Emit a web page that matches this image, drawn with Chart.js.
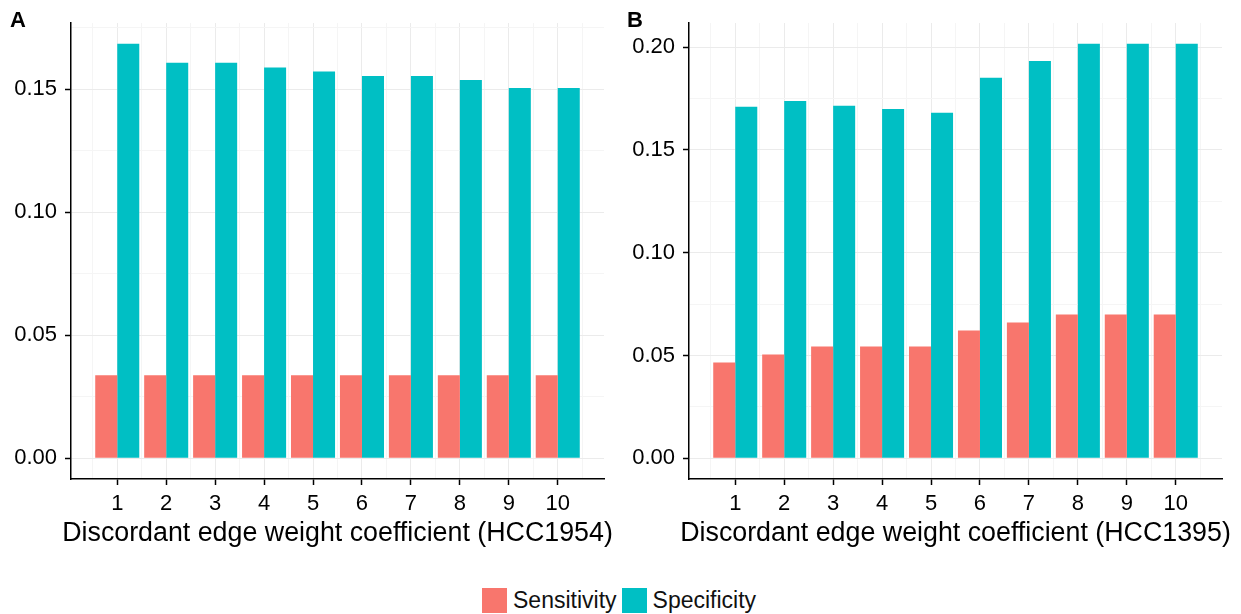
<!DOCTYPE html>
<html>
<head>
<meta charset="utf-8">
<script src="https://cdn.jsdelivr.net/npm/chart.js@4"></script>
<style>
  body { margin: 0; background: #fff; font-family: "Liberation Sans", Arial, sans-serif; }
  .wrap { position: relative; width: 1241px; height: 614px; overflow: hidden; }
  canvas { position: absolute; top: 0; }
  .tag { position: absolute; top: 7px; font-weight: bold; font-size: 22px; color: #000; }
  .xtitle { position: absolute; top: 519px; width: 700px; margin-left: -350px; text-align: center; font-size: 26.8px; line-height: 1; color: #000; white-space: nowrap; }
  .legend { position: absolute; left: 482px; top: 587px; display: flex; align-items: center; font-size: 23px; color: #111; }
  .sw { width: 25px; height: 25px; margin-right: 6px; }
  .legend span + .sw { margin-left: 5px; }
</style>
</head>
<body>
<div class="wrap">
  <canvas id="chartA" width="620" height="560" style="left:0"></canvas>
  <canvas id="chartB" width="621" height="560" style="left:620px"></canvas>
  <div class="tag" style="left:10px">A</div>
  <div class="tag" style="left:627px">B</div>
  <div class="xtitle" style="left:337.5px">Discordant edge weight coefficient (HCC1954)</div>
  <div class="xtitle" style="left:955.5px">Discordant edge weight coefficient (HCC1395)</div>
  <div class="legend">
    <div class="sw" style="background:#F8766D"></div><span>Sensitivity</span>
    <div class="sw" style="background:#00BFC4"></div><span>Specificity</span>
  </div>
</div>
<script>
const categories = [1, 2, 3, 4, 5, 6, 7, 8, 9, 10];

const sensitivityA = [0.0337, 0.0337, 0.0337, 0.0337, 0.0337, 0.0337, 0.0337, 0.0337, 0.0337, 0.0337];
const specificityA = [0.1684, 0.1607, 0.1607, 0.1587, 0.1571, 0.1553, 0.1553, 0.1537, 0.1504, 0.1504];

const sensitivityB = [0.0466, 0.0505, 0.0544, 0.0544, 0.0544, 0.0621, 0.066, 0.0699, 0.0699, 0.0699];
const specificityB = [0.1709, 0.1738, 0.1714, 0.1699, 0.168, 0.185, 0.1932, 0.2016, 0.2016, 0.2016];

const yTicksA = [0, 0.05, 0.1, 0.15];
const yTicksB = [0, 0.05, 0.1, 0.15, 0.2];

const FONT = "'Liberation Sans', Arial, sans-serif";
const MAJOR = "#ebebeb";
const MINOR = "#f5f5f5";

const toPoints = (values) => values.map((v, i) => ({ x: categories[i], y: v }));

// major ticks plus the half-way minor grid lines ggplot draws
const withMinor = (major) => {
  const out = [];
  major.forEach((v, i) => {
    out.push(v);
    const next = i < major.length - 1 ? major[i + 1] : v + (major[1] - major[0]);
    out.push(+(v + (next - v) / 2).toFixed(4));
  });
  return out;
};

const isMajor = (list, value) => list.some((v) => Math.abs(v - value) < 1e-6);

const gridColor = (list) => (c) => (c.tick && !isMajor(list, c.tick.value) ? MINOR : MAJOR);
const tickColor = (list) => (c) => (c.tick && !isMajor(list, c.tick.value) ? "rgba(0,0,0,0)" : "#000");

const makeChart = (id, sens, spec, yTicks, rightPad, yAxisWidth) => {
  const ctx = document.querySelector(id);
  const top = Math.max(...spec, ...sens);
  const xMajor = categories;
  const xAll = [categories[0] - 0.5].concat(withMinor(categories).slice(0, -1), [categories[categories.length - 1] + 0.5]);
  const yAll = withMinor(yTicks).filter((v) => v <= top * 1.05);

  return new Chart(ctx, {
    type: "bar",
    data: {
      datasets: [
        { label: "Sensitivity", data: toPoints(sens), backgroundColor: "#F8766D", borderWidth: 0 },
        { label: "Specificity", data: toPoints(spec), backgroundColor: "#00BFC4", borderWidth: 0 },
      ],
    },
    options: {
      responsive: false,
      animation: false,
      events: [],
      // tick spacing is half a category (minor grid), so 1.8 gives a 0.9 dodge width
      categoryPercentage: 1.8,
      barPercentage: 1.0,
      layout: { padding: { left: 0, right: rightPad, top: 23, bottom: 0 } },
      plugins: { legend: { display: false }, tooltip: { enabled: false } },
      scales: {
        x: {
          type: "linear",
          offset: false,
          min: 1 - 0.45 - 0.05 * 9.9,
          max: 10 + 0.45 + 0.05 * 9.9,
          afterBuildTicks: (axis) => {
            axis.ticks = xAll.map((v) => ({ value: v }));
          },
          afterFit: (axis) => {
            axis.height = 81;
          },
          border: { display: true, color: "#000", width: 1.5 },
          grid: {
            offset: false,
            color: gridColor(xMajor),
            tickColor: tickColor(xMajor),
            tickLength: 6,
            tickWidth: 1.5,
          },
          ticks: {
            autoSkip: false,
            maxRotation: 0,
            padding: 6,
            color: "#000",
            font: { family: FONT, size: 22 },
            callback: (v) => (isMajor(xMajor, v) ? String(v) : ""),
          },
        },
        y: {
          min: -0.05 * top,
          max: 1.05 * top,
          afterBuildTicks: (axis) => {
            axis.ticks = yAll.map((v) => ({ value: v }));
          },
          afterFit: (axis) => {
            axis.width = yAxisWidth;
          },
          border: { display: true, color: "#000", width: 1.5 },
          grid: {
            color: gridColor(yTicks),
            tickColor: tickColor(yTicks),
            tickLength: 6,
            tickWidth: 1.5,
          },
          ticks: {
            padding: 8,
            color: "#000",
            font: { family: FONT, size: 22 },
            callback: (v) => (isMajor(yTicks, v) ? v.toFixed(2) : ""),
          },
        },
      },
    },
  });
};

const main = () => {
  makeChart("#chartA", sensitivityA, specificityA, yTicksA, 16, 71);
  makeChart("#chartB", sensitivityB, specificityB, yTicksB, 19, 69);
};
main();
</script>
</body>
</html>
